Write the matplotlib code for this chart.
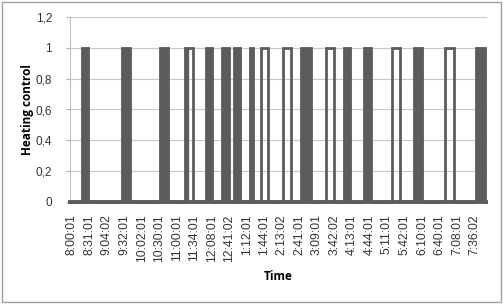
import matplotlib
matplotlib.use("Agg")
import matplotlib.pyplot as plt
from matplotlib.patches import Rectangle

# Category tick labels (one every ~30 min of samples)
tick_labels = ["8:00:01", "8:31:01", "9:04:02", "9:32:01", "10:02:01", "10:30:01",
               "11:00:01", "11:34:01", "12:08:01", "12:41:02", "1:12:01", "1:44:01",
               "2:13:02", "2:41:01", "3:09:01", "3:42:02", "4:13:01", "4:44:01",
               "5:11:01", "5:42:01", "6:10:01", "6:40:01", "7:08:01", "7:36:02"]

# Heating ON intervals (x in tick-label units)
on_start = [0.60, 2.88, 5.03, 6.44, 7.65, 8.60, 9.25, 10.16, 10.80, 12.04,
            13.11, 14.53, 15.52, 16.66, 18.27, 19.56, 21.29, 23.08]
on_end   = [0.95, 3.32, 5.50, 6.93, 8.01, 8.98, 9.63, 10.35, 11.20, 12.50,
            13.64, 14.96, 15.86, 17.09, 18.75, 20.00, 21.84, 23.58]
# Rapid on/off switching blocks (appear as solid bands)
chatter_start = [0.60, 2.88, 5.03, 6.44, 7.65, 8.60, 9.25, 10.16, 13.11, 15.52,
                 16.66, 19.56, 23.08]
chatter_end   = [0.95, 3.32, 5.50, 6.66, 8.01, 8.98, 9.63, 10.35, 13.64, 15.86,
                 17.09, 20.00, 23.58]
x_first, x_last = -0.1, 23.66

y_ticks = [0, 0.2, 0.4, 0.6, 0.8, 1.0, 1.2]
y_tick_labels = ["0", "0,2", "0,4", "0,6", "0,8", "1", "1,2"]

line_color = "#5c5c5c"

fig = plt.figure(figsize=(5.03, 3.04), dpi=100)
fig.patches.append(Rectangle((0.004, 0.006), 0.992, 0.988, transform=fig.transFigure,
                             fill=False, edgecolor="#a0a0a0", linewidth=1.0))
ax = fig.add_axes([70/503, 102/304, 417/503, 185/304])

# Build step series
xs = [x_first]
ys = [0]
for s, e in zip(on_start, on_end):
    xs += [s, s, e, e]
    ys += [0, 1, 1, 0]
xs.append(x_last)
ys.append(0)
ax.plot(xs, ys, color=line_color, linewidth=2.0, solid_joinstyle="miter", zorder=3,
        clip_on=False)
ax.plot([x_first, x_last], [0, 0], color=line_color, linewidth=2.8, zorder=3,
        clip_on=False)
for s, e in zip(chatter_start, chatter_end):
    ax.fill_between([s, e], 0, 1, color=line_color, linewidth=1.0, edgecolor=line_color,
                    zorder=3)

ax.set_xlim(x_first, x_last + 0.05)
ax.set_ylim(0, 1.2)
ax.set_yticks(y_ticks)
ax.set_yticklabels(y_tick_labels, fontsize=8.5, fontfamily="Liberation Sans", color="#333333")
ax.set_xticks(range(len(tick_labels)))
ax.set_xticklabels(tick_labels, rotation=90, fontsize=8.8, fontfamily="Liberation Sans",
                   color="#333333")
ax.tick_params(axis="x", length=0, pad=9)
ax.tick_params(axis="y", length=3, color="#b0b0b0", pad=10)
ax.grid(axis="y", color="#c8c8c8", linewidth=0.8)
ax.set_axisbelow(True)
for side in ["top", "right", "bottom"]:
    ax.spines[side].set_visible(False)
ax.spines["left"].set_color("#c0c0c0")
ax.spines["left"].set_linewidth(0.8)

ax.set_ylabel("Heating control", fontsize=8.5, fontweight="bold", fontfamily="Open Sans",
              labelpad=1)
fig.text(278/503, 1 - 277/304, "Time", fontsize=8.5, fontweight="bold",
         fontfamily="Open Sans", ha="center", va="center")

fig.savefig("out.png", dpi=100)
